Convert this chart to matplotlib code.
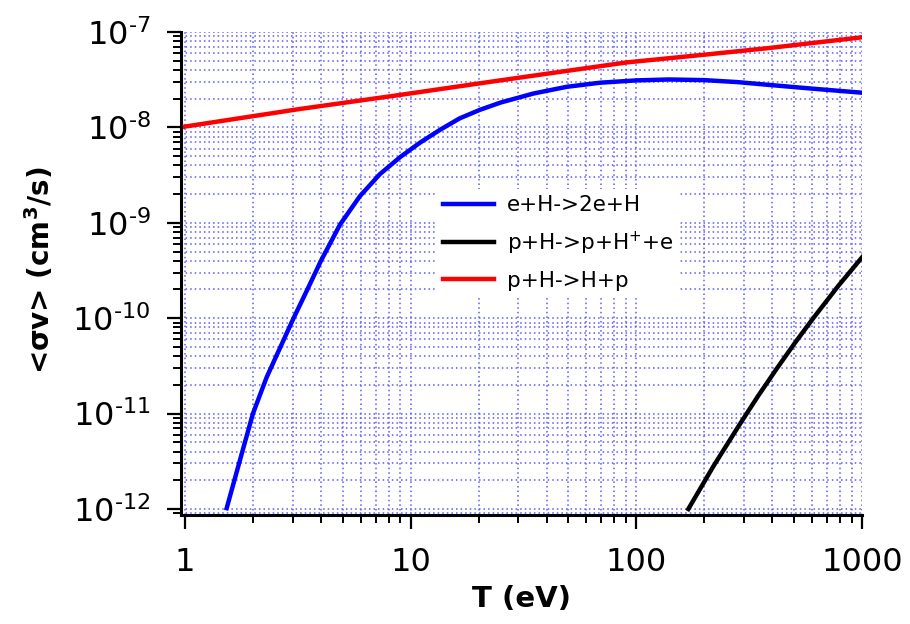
import numpy as np
import matplotlib.pyplot as plt
from matplotlib.ticker import NullFormatter, LogLocator

# ---- datos ----
# e + H -> 2e + H (ionizacion por electrones)
T_ion = [1.53, 1.78, 2.0, 2.3, 2.65, 3.0, 3.5, 4.0, 4.86, 5.96, 7.31, 9.0,
         11.0, 13.5, 16.5, 20.3, 25, 35, 49, 69, 100, 140, 200, 280, 400,
         600, 1000]
sv_ion = [1.02e-12, 3.72e-12, 1.0e-11, 2.40e-11, 5.01e-11, 9.55e-11,
          2.04e-10, 3.98e-10, 9.55e-10, 1.905e-9, 3.24e-9, 4.90e-9, 6.92e-9,
          9.44e-9, 1.245e-8, 1.53e-8, 1.82e-8, 2.265e-8, 2.66e-8, 2.94e-8,
          3.11e-8, 3.18e-8, 3.13e-8, 2.985e-8, 2.77e-8, 2.55e-8, 2.31e-8]

# p + H -> p + H+ + e (ionizacion por protones)
T_pion = [170, 219, 288, 347, 419, 505, 608, 785, 1000]
sv_pion = [1.0e-12, 2.78e-12, 7.8e-12, 1.54e-11, 2.96e-11, 5.53e-11,
           1.0e-10, 2.18e-10, 4.34e-10]

# p + H -> H + p (intercambio de carga)
T_cx = [1, 3.23, 8.97, 20.3, 41.4, 90.6, 200, 378, 1000]
sv_cx = [1.02e-8, 1.56e-8, 2.19e-8, 2.9e-8, 3.69e-8, 4.8e-8, 5.78e-8,
         6.75e-8, 8.8e-8]

xticks = [1, 10, 100, 1000]
xticklabels = ['1', '10', '100', '1000']
yticks = [1e-12, 1e-11, 1e-10, 1e-9, 1e-8, 1e-7]
yticklabels = ['$10^{\\text{-}12}$', '$10^{\\text{-}11}$', '$10^{\\text{-}10}$',
               '$10^{\\text{-}9}$', '$10^{\\text{-}8}$', '$10^{\\text{-}7}$']

# ---- grafica ----
fig = plt.figure(figsize=(9.1, 6.24), dpi=100)
ax = fig.add_axes([181 / 910, 1 - 515 / 624, 681 / 910, 483 / 624])

ax.plot(T_ion, sv_ion, color='#0000ff', lw=3.2, label='e+H->2e+H', zorder=3)
ax.plot(T_pion, sv_pion, color='black', lw=3.2, label='p+H->p+H$^{+}$+e', zorder=3)
ax.plot(T_cx, sv_cx, color='#ff0000', lw=3.2, label='p+H->H+p', zorder=3)

ax.set_xscale('log')
ax.set_yscale('log')
ax.set_xlim(0.96, 1000)
ax.set_ylim(0.865e-12, 1e-7)

ax.set_xticks(xticks)
ax.set_xticklabels(xticklabels)
ax.set_yticks(yticks)
ax.set_yticklabels(yticklabels)
ax.xaxis.set_minor_locator(LogLocator(base=10, subs=np.arange(2, 10), numticks=20))
ax.yaxis.set_minor_locator(LogLocator(base=10, subs=np.arange(2, 10), numticks=20))
ax.xaxis.set_minor_formatter(NullFormatter())
ax.yaxis.set_minor_formatter(NullFormatter())

ax.tick_params(which='major', direction='out', length=10, width=1.6,
               labelsize=23)
ax.tick_params(which='minor', direction='out', length=5.5, width=1.4)
ax.tick_params(axis='x', which='major', pad=13)
ax.tick_params(axis='y', which='major', pad=12)

for s in ['top', 'right']:
    ax.spines[s].set_visible(False)
for s in ['left', 'bottom']:
    ax.spines[s].set_linewidth(2.2)

ax.grid(True, which='both', color='#5a5aff', lw=1.1, ls=(0, (1, 2)))
ax.set_axisbelow(True)

ax.set_xlabel('T (eV)', fontsize=21, fontweight='bold')
ax.set_ylabel('<σv> (cm$^{\\mathbf{3}}$/s)', fontsize=20, fontweight='bold')
ax.xaxis.set_label_coords(0.5, -0.145)
ax.yaxis.set_label_coords(-0.183, 0.507)

leg = ax.legend(loc='center', bbox_to_anchor=(0.554, 0.563), fontsize=15.5,
                frameon=True, facecolor='white', edgecolor='none',
                framealpha=1, fancybox=False, handlelength=2.4,
                handletextpad=0.6, labelspacing=0.65, borderpad=0.3)
leg.set_zorder(5)
for line in leg.get_lines():
    line.set_linewidth(3.2)

fig.savefig('out.png', dpi=100)
